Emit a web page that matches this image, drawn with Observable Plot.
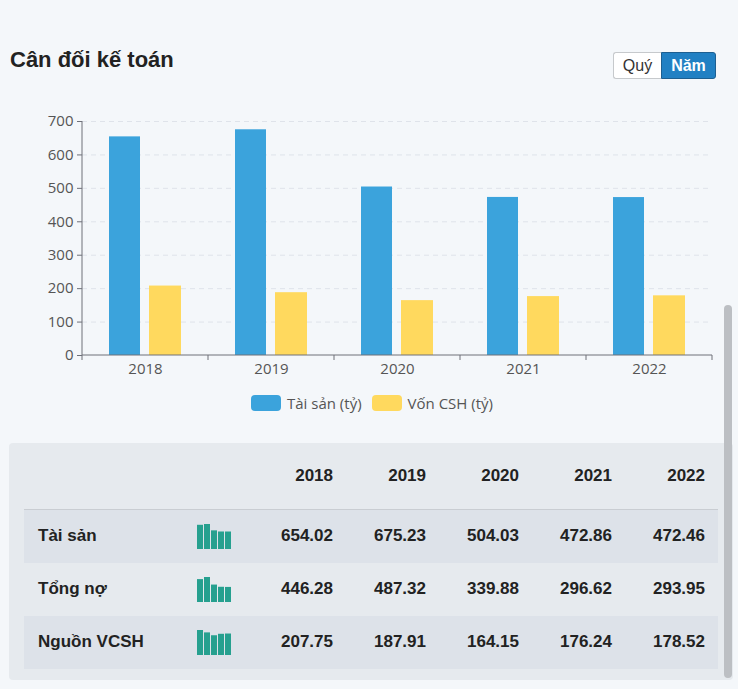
<!DOCTYPE html>
<html>
<head>
<meta charset="utf-8">
<script src="https://cdn.jsdelivr.net/npm/d3@7"></script>
<script src="https://cdn.jsdelivr.net/npm/@observablehq/plot@0.6"></script>
<style>
  html, body { margin: 0; padding: 0; }
  body { width: 738px; height: 689px; background: #f4f7fa; position: relative; overflow: hidden; font-family: "Liberation Sans", Arial, sans-serif; }
  #title { position: absolute; left: 10px; top: 47px; font-size: 22px; font-weight: bold; color: #222; }
  #btns { position: absolute; left: 613px; top: 52px; display: flex; height: 27px; }
  .btn { box-sizing: border-box; height: 27px; font-size: 16px; line-height: 25px; padding: 0 8px; }
  .b1 { background: #fff; border: 1px solid #c6c9cc; border-right: none; border-radius: 3px 0 0 3px; color: #333; width: 48px; text-align:center; }
  .b2 { background: #2180c3; border: 1px solid #1d5f91; border-radius: 0 3px 3px 0; color: #fff; font-weight: bold; width: 55px; text-align:center; }
  #chart { position: absolute; left: 0; top: 105px; }
  #legend { position: absolute; left: 0; top: 393px; width: 744px; display: flex; justify-content: center; gap: 0; font-family: "Open Sans", sans-serif; font-size: 15px; color: #555; }
  .li { display: flex; align-items: center; margin: 0 5px; }
  .sw { width: 30px; height: 16px; border-radius: 4px; margin-right: 6px; }
  #box { position: absolute; left: 9px; top: 443px; width: 724px; height: 237px; background: #e6eaee; border-radius: 4px; }
  table { position: absolute; left: 15px; top: 0; border-collapse: collapse; table-layout: fixed; font-family: "Liberation Sans", Arial, sans-serif; font-weight: bold; color: #222; font-size: 17px; }
  td, th { padding: 0; }
  thead th { height: 66px; text-align: right; padding-right: 13px; border-bottom: 1px solid #c9cdd2; }
  tbody tr { height: 53px; }
  tbody tr.dark { background: #dde2e9; }
  td.lab { padding-left: 14px; text-align: left; }
  td.num { text-align: right; padding-right: 13px; }
  td.sp { padding-left: 10px; }
  td.sp svg { display: block; }
  #scroll { position: absolute; left: 724px; top: 305px; width: 8px; height: 373px; background: #bcbfc3; border-radius: 4px; }
</style>
</head>
<body>
<div id="title">Cân đối kế toán</div>
<div id="btns"><div class="btn b1">Quý</div><div class="btn b2">Năm</div></div>
<div id="chart"></div>
<div id="legend"></div>
<div id="box"><table id="tbl"></table></div>
<div id="scroll"></div>
<script>
const years = ["2018", "2019", "2020", "2021", "2022"];
const taiSan = [654.02, 675.23, 504.03, 472.86, 472.46];
const tongNo = [446.28, 487.32, 339.88, 296.62, 293.95];
const vonCSH = [207.75, 187.91, 164.15, 176.24, 178.52];
const yTicks = [0, 100, 200, 300, 400, 500, 600, 700];
const seriesNames = ["Tài sản (tỷ)", "Vốn CSH (tỷ)"];
const seriesColors = ["#3ba3dc", "#ffd95e"];
const rowLabels = ["Tài sản", "Tổng nợ", "Nguồn VCSH"];
const rowValues = [taiSan, tongNo, vonCSH];

const data = years.map((y, i) => ({year: y, taiSan: taiSan[i], vonCSH: vonCSH[i]}));
const axisColor = "#6e7079";

const axisLines = (index, scales, values, dimensions) => {
  const {x, y} = scales;
  const g = d3.create("svg:g");
  const bw = x.bandwidth ? x.bandwidth() : 0;
  const left = dimensions.marginLeft, right = dimensions.width - dimensions.marginRight;
  const y0 = y(0);
  g.append("line").attr("x1", left).attr("x2", left).attr("y1", y(700)).attr("y2", y0).attr("stroke", axisColor);
  g.append("line").attr("x1", left).attr("x2", right).attr("y1", y0).attr("y2", y0).attr("stroke", axisColor);
  const bounds = [x(years[0])].concat(years.map(d => x(d) + bw));
  for (const b of bounds) {
    g.append("line").attr("x1", b).attr("x2", b).attr("y1", y0).attr("y2", y0 + 5).attr("stroke", axisColor);
  }
  return g.node();
};

const chart = Plot.plot({
  width: 738,
  height: 285,
  marginLeft: 82,
  marginRight: 26,
  marginTop: 16,
  marginBottom: 35,
  style: {background: "transparent", fontFamily: "Open Sans, sans-serif", fontSize: "15px", color: "#555"},
  x: {domain: years, padding: 0, axis: null},
  y: {domain: [0, 700], axis: null},
  marks: [
    Plot.ruleY(yTicks.filter(d => d > 0), {stroke: "#dfe3ea", strokeDasharray: "5,4", strokeWidth: 1}),
    Plot.barY(data, {x: "year", y: "taiSan", fill: seriesColors[0], insetLeft: 27, insetRight: 68}),
    Plot.barY(data, {x: "year", y: "vonCSH", fill: seriesColors[1], insetLeft: 67, insetRight: 27}),
    Plot.axisY({ticks: yTicks, tickSize: 5, tickPadding: 4, stroke: axisColor, fill: "#555", fontSize: 15, label: null}),
    Plot.axisX({tickSize: 0, tickPadding: 8, fill: "#555", fontSize: 15, label: null}),
    axisLines
  ]
});
document.getElementById("chart").appendChild(chart);

const legend = document.getElementById("legend");
seriesNames.forEach((n, i) => {
  const item = document.createElement("div");
  item.className = "li";
  item.innerHTML = `<span class="sw" style="background:${seriesColors[i]}"></span><span>${n}</span>`;
  legend.appendChild(item);
});

const tbl = document.getElementById("tbl");
const colW = [161, 68, 93, 93, 93, 93, 93];
const cg = document.createElement("colgroup");
colW.forEach(w => { const c = document.createElement("col"); c.style.width = w + "px"; cg.appendChild(c); });
tbl.appendChild(cg);
const thead = document.createElement("thead");
const hr = document.createElement("tr");
hr.innerHTML = `<th></th><th></th>` + years.map(y => `<th>${y}</th>`).join("");
thead.appendChild(hr);
tbl.appendChild(thead);
const tbody = document.createElement("tbody");
rowLabels.forEach((lab, r) => {
  const tr = document.createElement("tr");
  if (r !== 1) tr.className = "dark";
  const vals = rowValues[r];
  tr.innerHTML = `<td class="lab">${lab}</td><td class="sp"></td>` + vals.map(v => `<td class="num">${v.toFixed(2)}</td>`).join("");
  const spark = Plot.plot({
    width: 38, height: 25, margin: 0,
    style: {background: "transparent"},
    x: {domain: years, padding: 0.2, axis: null},
    y: {domain: [0, d3.max(vals)], axis: null},
    marks: [Plot.barY(years.map((y, i) => ({year: y, v: vals[i]})), {x: "year", y: "v", fill: "#26a08f"})]
  });
  tr.children[1].appendChild(spark);
  tbody.appendChild(tr);
});
tbl.appendChild(tbody);
</script>
</body>
</html>
